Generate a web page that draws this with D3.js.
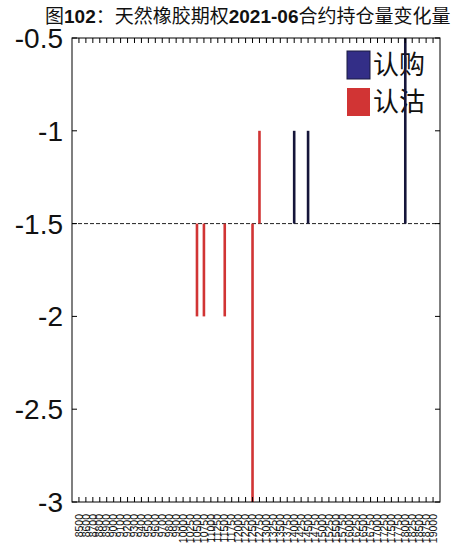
<!DOCTYPE html>
<html><head><meta charset="utf-8">
<script src="https://cdn.jsdelivr.net/npm/d3@7"></script>
<style>
html,body{margin:0;padding:0;background:#fff;overflow:hidden}
svg{display:block}
</style></head>
<body><svg id="c" width="452" height="548"></svg>
<script>
const strikes = [8500,8600,8700,8800,8900,9000,9100,9200,9300,9400,9500,9600,9700,9800,9900,10000,
  10250,10500,10750,11000,11250,11500,11750,12000,12250,12500,12750,13000,13250,13500,13750,14000,
  14250,14500,14750,15000,15250,15500,15750,16000,16250,16500,16750,17000,17250,17500,17750,18000,
  18250,18500,18750,19000];
const callStrikes = [14000, 14500, 18000];
const callValues = [-1, -1, 0];
const putStrikes = [10500, 10750, 11500, 12500, 12750];
const putValues = [-2, -2, -2, -3, -1];
const baseValue = -1.5;
const yTicks = [-3, -2.5, -2, -1.5, -1, -0.5];
const legendLabels = ["认购", "认沽"];

const svg = d3.select("#c");
const L = 72, R = 440, T = 38, B = 502;
const callColor = "#15153a", putColor = "#d13434", callLegendColor = "#332e87";

const x = d3.scalePoint().domain(strikes).range([L, R]).padding(1);
const y = d3.scaleLinear().domain([-3, -0.5]).range([B, T]);

// title
const title = svg.append("text").attr("x", 45).attr("y", 23)
  .style("font-size", "19px").style("fill", "#111");
[["图", false], ["102", true], ["：天然橡胶期权", false], ["2021-06", true], ["合约持仓量变化量", false]]
  .forEach(([t, b]) => {
    title.append("tspan").text(t)
      .style("font-family", b ? "'Liberation Sans', Arial, sans-serif" : "'Noto Sans CJK SC', sans-serif")
      .style("font-weight", b ? "bold" : "normal");
  });

svg.append("defs").append("clipPath").attr("id", "clip")
  .append("rect").attr("x", L).attr("y", T).attr("width", R - L).attr("height", B - T);

// legend (drawn beneath the bars)
const lg = svg.append("g");
[[callLegendColor, legendLabels[0], 51], [putColor, legendLabels[1], 88]].forEach(([c, t, yy], i) => {
  lg.append("rect").attr("x", 347).attr("y", yy).attr("width", 23).attr("height", 28)
    .attr("fill", c).attr("stroke", i === 0 ? "#1a1a40" : "none").attr("stroke-width", 1);
  lg.append("text").attr("x", 373).attr("y", yy + 14).attr("dy", "0.36em")
    .style("font-family", "'Noto Sans CJK SC', sans-serif").style("font-size", "26px").style("fill", "#111")
    .text(t);
});

const plot = svg.append("g").attr("clip-path", "url(#clip)");

// baseline
plot.append("line").attr("x1", L).attr("x2", R).attr("y1", y(baseValue)).attr("y2", y(baseValue))
  .attr("stroke", "#222").attr("stroke-width", 1).attr("stroke-dasharray", "4,2");

const bw = 2.6;
plot.selectAll(".put").data(putStrikes.map((s, i) => ({s, v: putValues[i]}))).enter()
  .append("rect").attr("x", d => x(d.s) - bw / 2).attr("width", bw)
  .attr("y", d => Math.min(y(d.v), y(baseValue))).attr("height", d => Math.abs(y(d.v) - y(baseValue)))
  .attr("fill", putColor);
plot.selectAll(".call").data(callStrikes.map((s, i) => ({s, v: callValues[i]}))).enter()
  .append("rect").attr("x", d => x(d.s) - bw / 2).attr("width", bw)
  .attr("y", d => Math.min(y(d.v), y(baseValue))).attr("height", d => Math.abs(y(d.v) - y(baseValue)))
  .attr("fill", callColor);

// frame
svg.append("rect").attr("x", L).attr("y", T).attr("width", R - L).attr("height", B - T)
  .attr("fill", "none").attr("stroke", "#000").attr("stroke-width", 1);

// x ticks (inward, top and bottom)
const tk = 5;
strikes.forEach(s => {
  svg.append("line").attr("x1", x(s)).attr("x2", x(s)).attr("y1", B).attr("y2", B - tk).attr("stroke", "#000");
  svg.append("line").attr("x1", x(s)).attr("x2", x(s)).attr("y1", T).attr("y2", T + tk).attr("stroke", "#000");
});
// y ticks
yTicks.forEach(v => {
  svg.append("line").attr("x1", L).attr("x2", L + tk).attr("y1", y(v)).attr("y2", y(v)).attr("stroke", "#000");
  svg.append("line").attr("x1", R).attr("x2", R - tk).attr("y1", y(v)).attr("y2", y(v)).attr("stroke", "#000");
});

// y labels
svg.selectAll(".yl").data(yTicks).enter().append("text")
  .attr("x", 63).attr("y", d => y(d)).attr("dy", "0.36em")
  .attr("text-anchor", "end")
  .style("font-family", "'Liberation Sans', Arial, sans-serif").style("font-size", "28px").style("fill", "#111")
  .text(d => String(d));

// x labels rotated
svg.selectAll(".xl").data(strikes).enter().append("text")
  .attr("transform", d => `translate(${x(d)},${514}) rotate(-90)`)
  .attr("dy", "0.35em").attr("text-anchor", "end")
  .style("font-family", "'Liberation Sans', Arial, sans-serif").style("font-size", "10.5px").style("fill", "#111")
  .text(d => String(d));
</script>
</body></html>
